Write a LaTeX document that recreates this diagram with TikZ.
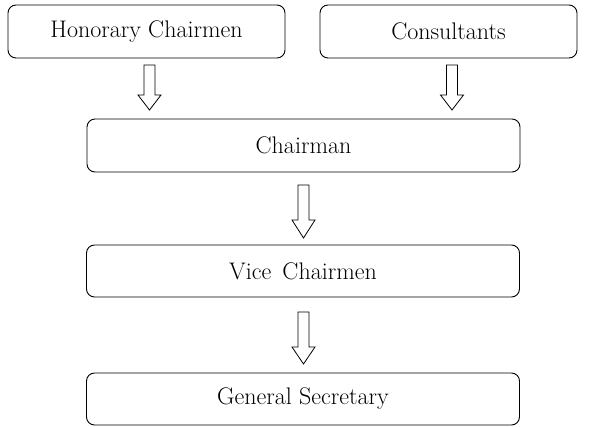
\documentclass[tikz,border=0pt]{standalone}
\usetikzlibrary{calc}
\tikzset{
  box/.style={draw, line width=0.9pt, rounded corners=8pt, inner sep=0pt,
    minimum height=53pt, font=\fontsize{24}{29}\selectfont},
  blockarr/.style={draw, line width=0.8pt, fill=white, line join=miter}
}
\newcommand\blockarrow[4]{% x, ytop, ytip, head length
  \draw[blockarr] (#1-5.5,#2) -- (#1+5.5,#2) -- (#1+5.5,#3-#4) -- (#1+11.5,#3-#4)
    -- (#1,#3) -- (#1-11.5,#3-#4) -- (#1-5.5,#3-#4) -- cycle;}
\begin{document}
\begin{tikzpicture}[x=1pt,y=-1pt]
\useasboundingbox (0,0) rectangle (589,426);
\node[box, minimum width=277pt] (hon) at (146.5,31.5) {Honorary Chairmen};
\node[box, minimum width=257pt] (con) at (448.5,31.5) {Consultants};
\node[box, minimum width=433pt] (chair) at (303.5,145.5) {Chairman};
\node[box, minimum width=433pt, minimum height=52pt] (vice) at (303,271) {Vice\, Chairmen};
\node[box, minimum width=433pt, minimum height=52pt] (gen) at (303,399) {General Secretary};
\blockarrow{149.5}{65}{110}{15}
\blockarrow{452}{65}{110}{15}
\blockarrow{303.5}{185}{238}{18}
\blockarrow{303.5}{312}{364}{17}
\end{tikzpicture}
\end{document}
